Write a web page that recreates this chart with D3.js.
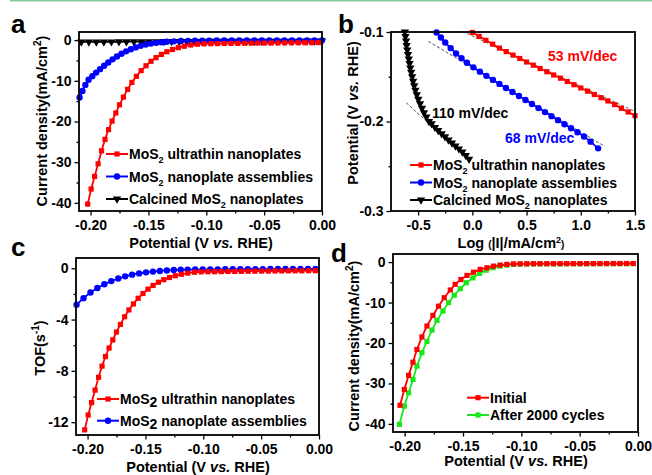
<!DOCTYPE html>
<html>
<head>
<meta charset="utf-8">
<script src="https://cdn.jsdelivr.net/npm/d3@7"></script>
<style>
  body { margin: 0; background: #fff; }
  text { font-family: "Liberation Sans", Arial, sans-serif; font-weight: bold; }
</style>
</head>
<body>
<svg width="652" height="475"></svg>
<script>
// ---- panel a : polarization curves (V vs RHE, mA/cm2)
const aUltrathin = [[-0.2025,-40.3],[-0.1995,-36.6],[-0.1965,-33.5],[-0.1935,-30.4],[-0.1905,-27.2],[-0.1875,-24.4],
  [-0.1845,-22.0],[-0.1814,-19.9],[-0.1782,-17.9],[-0.1750,-15.9],[-0.1716,-14.0],[-0.1680,-12.1],[-0.1643,-10.4],
  [-0.1604,-8.9],[-0.1563,-7.5],[-0.1521,-6.3],[-0.1478,-5.2],[-0.1434,-4.3],[-0.1388,-3.5],[-0.1341,-2.85],
  [-0.1292,-2.3],[-0.1242,-1.85],[-0.1190,-1.5],[-0.1134,-1.2],[-0.1076,-1.0],[-0.1018,-0.9],[-0.0960,-0.87],
  [-0.0902,-0.85],[-0.0844,-0.83],[-0.0786,-0.81],[-0.0728,-0.79],[-0.0670,-0.77],[-0.0612,-0.75],[-0.0554,-0.73],
  [-0.0496,-0.72],[-0.0438,-0.70],[-0.0380,-0.69],[-0.0322,-0.67],[-0.0264,-0.66],[-0.0206,-0.64],[-0.0148,-0.63],
  [-0.0090,-0.62],[-0.0032,-0.61]];
const aAssemblies = [[-0.2095,-14.1],[-0.2070,-12.5],[-0.2045,-11.0],[-0.2017,-9.75],[-0.1985,-8.85],[-0.1952,-7.98],
  [-0.1918,-7.13],[-0.1883,-6.29],[-0.1847,-5.50],[-0.1810,-4.72],[-0.1772,-4.01],[-0.1733,-3.34],[-0.1693,-2.76],
  [-0.1652,-2.23],[-0.1610,-1.79],[-0.1567,-1.41],[-0.1523,-1.10],[-0.1478,-0.85],[-0.1433,-0.66],[-0.1387,-0.52],
  [-0.1341,-0.40],[-0.1280,-0.30],[-0.1219,-0.22],[-0.1158,-0.17],[-0.1097,-0.14],[-0.1036,-0.12],[-0.0975,-0.11],
  [-0.0910,-0.10],[-0.0845,-0.10],[-0.0780,-0.09],[-0.0715,-0.09],[-0.0650,-0.08],[-0.0585,-0.08],[-0.0520,-0.07],
  [-0.0455,-0.07],[-0.0390,-0.07],[-0.0325,-0.06],[-0.0260,-0.06],[-0.0195,-0.06],[-0.0130,-0.05],[-0.0065,-0.05],[0,-0.05]];
const aCalcined = [[-0.2080,-0.45],[-0.2015,-0.44],[-0.1950,-0.43],[-0.1885,-0.42],[-0.1820,-0.41],[-0.1755,-0.40],
  [-0.1690,-0.39],[-0.1625,-0.38],[-0.1560,-0.37],[-0.1495,-0.36],[-0.1430,-0.35],[-0.1365,-0.34],[-0.1300,-0.33],
  [-0.1235,-0.32],[-0.1170,-0.31],[-0.1105,-0.30],[-0.1040,-0.29],[-0.0975,-0.28],[-0.0910,-0.28],[-0.0845,-0.27],
  [-0.0780,-0.26],[-0.0715,-0.26],[-0.0650,-0.25],[-0.0585,-0.25],[-0.0520,-0.24],[-0.0455,-0.24],[-0.0390,-0.23],
  [-0.0325,-0.23],[-0.0260,-0.22],[-0.0195,-0.22],[-0.0130,-0.21],[-0.0065,-0.21],[0,-0.20]];

// ---- panel b : Tafel plots (log|J|, V)
const bUltrathin = [[0,-0.1005],[0.0625,-0.1049],[0.125,-0.1093],[0.1875,-0.1136],[0.25,-0.1180],[0.3125,-0.1219],
  [0.375,-0.1258],[0.4375,-0.1296],[0.5,-0.1335],[0.5625,-0.1371],[0.625,-0.1408],[0.6875,-0.1444],[0.75,-0.1480],
  [0.8125,-0.1516],[0.875,-0.1553],[0.9375,-0.1589],[1.0,-0.1625],[1.0625,-0.1661],[1.125,-0.1698],[1.1875,-0.1734],
  [1.25,-0.1770],[1.3125,-0.1811],[1.375,-0.1853],[1.4375,-0.1894],[1.5,-0.1935]];
const bAssemblies = [[-0.33,-0.1005],[-0.29,-0.1062],[-0.25,-0.1118],[-0.20,-0.1180],[-0.15,-0.1240],[-0.10,-0.1293],
  [-0.05,-0.1343],[0.01,-0.1395],[0.07,-0.1443],[0.13,-0.1490],[0.19,-0.1535],[0.25,-0.1580],[0.31,-0.1625],
  [0.37,-0.1670],[0.43,-0.1715],[0.49,-0.1760],[0.55,-0.1805],[0.61,-0.1850],[0.67,-0.1895],[0.73,-0.1940],
  [0.79,-0.1985],[0.85,-0.2030],[0.91,-0.2075],[0.97,-0.2120],[1.03,-0.2168],[1.09,-0.2225],[1.16,-0.2300]];
const bCalcined = [[-0.622,-0.100],[-0.617,-0.105],[-0.611,-0.110],[-0.606,-0.115],[-0.600,-0.120],[-0.593,-0.125],
  [-0.586,-0.130],[-0.579,-0.135],[-0.572,-0.140],[-0.564,-0.145],[-0.555,-0.150],[-0.546,-0.155],[-0.536,-0.160],
  [-0.525,-0.165],[-0.512,-0.170],[-0.498,-0.175],[-0.482,-0.180],[-0.464,-0.185],[-0.446,-0.190],[-0.424,-0.195],
  [-0.400,-0.200],[-0.375,-0.2025],[-0.345,-0.2065],[-0.315,-0.2100],[-0.283,-0.2135],[-0.252,-0.2170],
  [-0.220,-0.2205],[-0.188,-0.2240],[-0.156,-0.2272],[-0.124,-0.2305],[-0.092,-0.2340],[-0.060,-0.2380],[-0.030,-0.2420]];
// Tafel fit segments, endpoints [log|J|, V]
const fitUltrathin = [[-0.09,-0.0993],[1.5,-0.1889]];
const fitAssemblies = [[-0.405,-0.1105],[1.224,-0.228]];
const fitCalcined = [[-0.61,-0.1790],[-0.36,-0.2065]];
const tafelSlopes = ["53 mV/dec", "68 mV/dec", "110 mV/dec"];

// ---- panel c : TOF (s-1)
const cUltrathin = [[-0.2025,-12.6],[-0.1995,-11.44],[-0.1965,-10.47],[-0.1935,-9.5],[-0.1905,-8.5],[-0.1875,-7.63],
  [-0.1845,-6.88],[-0.1814,-6.22],[-0.1782,-5.59],[-0.1750,-4.97],[-0.1716,-4.38],[-0.1680,-3.78],[-0.1643,-3.25],
  [-0.1604,-2.78],[-0.1563,-2.34],[-0.1521,-1.97],[-0.1478,-1.63],[-0.1434,-1.34],[-0.1388,-1.09],[-0.1341,-0.89],
  [-0.1292,-0.72],[-0.1242,-0.58],[-0.1190,-0.47],[-0.1134,-0.38],[-0.1076,-0.31],[-0.1018,-0.28],[-0.0960,-0.27],
  [-0.0902,-0.27],[-0.0844,-0.26],[-0.0786,-0.25],[-0.0728,-0.25],[-0.0670,-0.24],[-0.0612,-0.23],[-0.0554,-0.23],
  [-0.0496,-0.22],[-0.0438,-0.22],[-0.0380,-0.21],[-0.0322,-0.21],[-0.0264,-0.20],[-0.0206,-0.20],[-0.0148,-0.20],
  [-0.0090,-0.19],[-0.0032,-0.19]];
const cAssemblies = [[-0.2095,-2.84],[-0.2035,-2.33],[-0.1975,-1.89],[-0.1915,-1.54],[-0.1855,-1.25],[-0.1795,-1.00],
  [-0.1735,-0.80],[-0.1675,-0.63],[-0.1615,-0.50],[-0.1555,-0.40],[-0.1495,-0.32],[-0.1435,-0.26],[-0.1375,-0.21],
  [-0.1315,-0.17],[-0.1255,-0.14],[-0.1195,-0.12],[-0.1135,-0.11],[-0.1070,-0.10],[-0.1005,-0.10],[-0.0940,-0.09],
  [-0.0875,-0.09],[-0.0810,-0.08],[-0.0745,-0.08],[-0.0680,-0.08],[-0.0615,-0.07],[-0.0550,-0.07],[-0.0485,-0.07],
  [-0.0420,-0.06],[-0.0355,-0.06],[-0.0290,-0.06],[-0.0225,-0.06],[-0.0160,-0.05],[-0.0095,-0.05],[-0.0030,-0.05]];

// ---- panel d : stability
const dInitial = [[-0.2040,-35.4],[-0.2003,-31.5],[-0.1966,-28.0],[-0.1929,-24.75],[-0.1895,-21.6],[-0.1852,-18.5],
  [-0.1809,-15.8],[-0.1758,-13.2],[-0.1710,-10.9],[-0.1661,-8.8],[-0.1609,-6.9],[-0.1567,-5.5],[-0.1518,-4.3],
  [-0.1466,-3.3],[-0.1410,-2.5],[-0.1353,-1.8],[-0.1295,-1.4],[-0.1239,-1.0],[-0.1181,-0.74],[-0.1124,-0.57],
  [-0.1067,-0.46],[-0.1010,-0.43],[-0.0953,-0.41],[-0.0896,-0.40],[-0.0839,-0.40],[-0.0782,-0.39],[-0.0725,-0.39],
  [-0.0668,-0.38],[-0.0611,-0.38],[-0.0554,-0.38],[-0.0497,-0.37],[-0.0440,-0.37],[-0.0383,-0.37],[-0.0326,-0.36],
  [-0.0269,-0.36],[-0.0212,-0.36],[-0.0155,-0.35],[-0.0098,-0.35],[-0.0041,-0.35]];
const d2000 = [[-0.2045,-40.1],[-0.2003,-35.6],[-0.1966,-32.3],[-0.1929,-29.0],[-0.1895,-25.7],[-0.1852,-22.4],
  [-0.1809,-19.6],[-0.1766,-16.8],[-0.1723,-14.4],[-0.1672,-12.1],[-0.1624,-10.0],[-0.1575,-8.2],[-0.1524,-6.6],
  [-0.1472,-5.1],[-0.1415,-3.9],[-0.1359,-2.8],[-0.1301,-2.0],[-0.1244,-1.4],[-0.1187,-1.0],[-0.1124,-0.74],
  [-0.1067,-0.57],[-0.1010,-0.50],[-0.0953,-0.47],[-0.0896,-0.45],[-0.0839,-0.44],[-0.0782,-0.43],[-0.0725,-0.43],
  [-0.0668,-0.42],[-0.0611,-0.42],[-0.0554,-0.41],[-0.0497,-0.41],[-0.0440,-0.41],[-0.0383,-0.40],[-0.0326,-0.40],
  [-0.0269,-0.40],[-0.0212,-0.39],[-0.0155,-0.39],[-0.0098,-0.39],[-0.0041,-0.38]];

// tick values
const potTicks = [-0.20, -0.15, -0.10, -0.05, 0.00];
const potMinor = [-0.175, -0.125, -0.075, -0.025];
const jTicks = [0, -10, -20, -30, -40];
const jMinor = [-5, -15, -25, -35];
const logTicks = [-0.5, 0.0, 0.5, 1.0, 1.5];
const logMinor = [-0.25, 0.25, 0.75, 1.25];
const tafTicks = [-0.1, -0.2, -0.3];
const tafMinor = [-0.15, -0.25];
const tofTicks = [0, -4, -8, -12];
const tofMinor = [-2, -6, -10];

const RED = "#ff0000", BLUE = "#0000ff", BLACK = "#000000", GREEN = "#19e619";

const svg = d3.select("svg");

// thin green rule at the top of the figure
svg.append("line").attr("x1", 10).attr("x2", 652).attr("y1", 0.75).attr("y2", 0.75)
  .attr("stroke", "#88c896").attr("stroke-width", 1.5);

const symbols = {
  square: d3.symbol().type(d3.symbolSquare).size(27)(),
  circle: d3.symbol().type(d3.symbolCircle).size(32)(),
  tri: d3.symbol().type(d3.symbolTriangle).size(30)()
};

function marker(g, kind, color, x, y) {
  g.append("path").attr("d", symbols[kind]).attr("fill", color)
    .attr("transform", `translate(${x},${y})` + (kind == "tri" ? " rotate(180)" : ""));
}

// text made of parts: {t, size, dy, it}
function rich(sel, parts) {
  parts.forEach(p => {
    const ts = sel.append("tspan").text(p.t);
    if (p.size) ts.attr("font-size", p.size);
    if (p.dy) ts.attr("dy", p.dy);
    if (p.it) ts.attr("font-style", "italic");
  });
  return sel;
}

const potTitle = [{t: "Potential (V "}, {t: "vs.", it: true}, {t: " RHE)"}];
const jTitle = [{t: "Current density(mA/cm"}, {t: "2", size: 10, dy: -6}, {t: ")", dy: 6}];

function panel(p) {
  const g = svg.append("g");
  const x = d3.scaleLinear().domain(p.xd).range([p.x0, p.x1]);
  const y = d3.scaleLinear().domain(p.yd).range([p.y1, p.y0]);

  const axes = [
    g.append("g").attr("transform", `translate(0,${p.y1})`)
      .call(d3.axisBottom(x).tickValues(p.xMinor).tickSize(2.5).tickFormat("")),
    g.append("g").attr("transform", `translate(0,${p.y1})`)
      .call(d3.axisBottom(x).tickValues(p.xt).tickSize(4.5).tickPadding(5).tickFormat(p.xf)),
    g.append("g").attr("transform", `translate(${p.x0},0)`)
      .call(d3.axisLeft(y).tickValues(p.yMinor).tickSize(2.5).tickFormat("")),
    g.append("g").attr("transform", `translate(${p.x0},0)`)
      .call(d3.axisLeft(y).tickValues(p.yt).tickSize(4.5).tickPadding(3).tickFormat(p.yf))
  ];
  axes.forEach(a => {
    a.select(".domain").remove();
    a.selectAll("line").attr("stroke-width", 1.3);
    a.attr("font-size", 14).attr("font-family", null);
  });

  if (p.fits) {
    p.fits.forEach(f => {
      g.append("line").attr("x1", x(f[0][0])).attr("y1", y(f[0][1]))
        .attr("x2", x(f[1][0])).attr("y2", y(f[1][1]))
        .attr("stroke", "#555").attr("stroke-width", 1).attr("stroke-dasharray", "3,2");
    });
  }

  const line = d3.line().x(d => x(d[0])).y(d => y(d[1]));
  p.series.forEach(s => {
    g.append("path").datum(s.data).attr("d", line).attr("fill", "none")
      .attr("stroke", s.color).attr("stroke-width", 1.8);
    s.data.forEach(d => marker(g, s.sym, s.color, x(d[0]), y(d[1])));
  });

  g.append("rect").attr("x", p.x0).attr("y", p.y0)
    .attr("width", p.x1 - p.x0).attr("height", p.y1 - p.y0)
    .attr("fill", "none").attr("stroke", "#000").attr("stroke-width", 1.8);

  // legend
  p.legend.rows.forEach((r, i) => {
    const ly = p.legend.y + i * p.legend.dy;
    const lx = p.legend.x;
    g.append("line").attr("x1", lx).attr("x2", lx + 22).attr("y1", ly).attr("y2", ly)
      .attr("stroke", r.color).attr("stroke-width", 2);
    marker(g, r.sym, r.color, lx + 11, ly);
    rich(g.append("text").attr("x", lx + 23).attr("y", ly + 5).attr("font-size", 14), r.parts);
  });

  // axis titles
  rich(g.append("text").attr("x", p.xtPos[0]).attr("y", p.xtPos[1])
    .attr("text-anchor", "middle").attr("font-size", 14.5), p.xTitle);
  rich(g.append("text").attr("transform", `translate(${p.ytPos[0]},${p.ytPos[1]}) rotate(-90)`)
    .attr("text-anchor", "middle").attr("font-size", 14.5), p.yTitle);

  g.append("text").attr("x", p.label[0]).attr("y", p.label[1])
    .attr("font-size", 26).text(p.label[2]);

  return {g, x, y};
}

const f2 = d => d.toFixed(2), f1 = d => d.toFixed(1), f0 = d => String(d);
const sub2 = [{t: "2", size: 9, dy: 4}];

const legUltrathin = [{t: "MoS"}, ...sub2, {t: " ultrathin nanoplates", dy: -4}];
const legAssemblies = [{t: "MoS"}, ...sub2, {t: " nanoplate assemblies", dy: -4}];
const legCalcined = [{t: "Calcined MoS"}, ...sub2, {t: " nanoplates", dy: -4}];

panel({
  x0: 79, x1: 322, y0: 32, y1: 211, xd: [-0.21, 0], yd: [-42, 2],
  xt: potTicks, xMinor: potMinor, xf: f2, yt: jTicks, yMinor: jMinor, yf: f0,
  series: [
    {data: aCalcined, color: BLACK, sym: "tri"},
    {data: aAssemblies, color: BLUE, sym: "circle"},
    {data: aUltrathin, color: RED, sym: "square"}
  ],
  legend: {x: 106, y: 154, dy: 22.5, rows: [
    {color: RED, sym: "square", parts: legUltrathin},
    {color: BLUE, sym: "circle", parts: legAssemblies},
    {color: BLACK, sym: "tri", parts: legCalcined}
  ]},
  xTitle: potTitle, xtPos: [201, 248], yTitle: jTitle, ytPos: [47, 121],
  label: [11, 33, "a"]
});

const pb = panel({
  x0: 391, x1: 635, y0: 32, y1: 211, xd: [-0.75, 1.5], yd: [-0.3, -0.1],
  xt: logTicks, xMinor: logMinor, xf: f1, yt: tafTicks, yMinor: tafMinor, yf: f1,
  fits: [fitUltrathin, fitAssemblies, fitCalcined],
  series: [
    {data: bCalcined, color: BLACK, sym: "tri"},
    {data: bAssemblies, color: BLUE, sym: "circle"},
    {data: bUltrathin, color: RED, sym: "square"}
  ],
  legend: {x: 410, y: 165, dy: 17.5, rows: [
    {color: RED, sym: "square", parts: legUltrathin},
    {color: BLUE, sym: "circle", parts: legAssemblies},
    {color: BLACK, sym: "tri", parts: legCalcined}
  ]},
  xTitle: [{t: "Log "}, {t: "(", size: 10}, {t: "|I|/mA/cm"}, {t: "2", size: 9, dy: -5}, {t: ")", size: 10, dy: 5}],
  xtPos: [511, 248], yTitle: potTitle, ytPos: [358, 113],
  label: [338, 33, "b"]
});
// slope annotations
[[tafelSlopes[0], RED, 548, 61], [tafelSlopes[1], BLUE, 505, 143], [tafelSlopes[2], BLACK, 432, 118]]
  .forEach(s => pb.g.append("text").attr("x", s[2]).attr("y", s[3]).attr("font-size", 14)
    .attr("fill", s[1]).text(s[0]));

panel({
  x0: 76, x1: 319, y0: 258, y1: 435, xd: [-0.21, 0], yd: [-13, 0.8],
  xt: potTicks, xMinor: potMinor, xf: f2, yt: tofTicks, yMinor: tofMinor, yf: f0,
  series: [
    {data: cAssemblies, color: BLUE, sym: "circle"},
    {data: cUltrathin, color: RED, sym: "square"}
  ],
  legend: {x: 97, y: 399, dy: 21.7, rows: [
    {color: RED, sym: "square", parts: [{t: "MoS"}, {t: "2", dy: 3}, {t: " ultrathin nanoplates", dy: -3}]},
    {color: BLUE, sym: "circle", parts: [{t: "MoS"}, {t: "2", dy: 3}, {t: " nanoplate assemblies", dy: -3}]}
  ]},
  xTitle: potTitle, xtPos: [198, 472],
  yTitle: [{t: "TOF(s"}, {t: "-1", size: 10, dy: -6}, {t: ")", dy: 6}], ytPos: [45, 348],
  label: [11, 256, "c"]
});

panel({
  x0: 393, x1: 638, y0: 254, y1: 432, xd: [-0.21, 0], yd: [-42, 2],
  xt: potTicks, xMinor: potMinor, xf: f2, yt: jTicks, yMinor: jMinor, yf: f0,
  series: [
    {data: d2000, color: GREEN, sym: "square"},
    {data: dInitial, color: RED, sym: "square"}
  ],
  legend: {x: 467, y: 397.7, dy: 17.3, rows: [
    {color: RED, sym: "square", parts: [{t: "Initial"}]},
    {color: GREEN, sym: "square", parts: [{t: "After 2000 cycles"}]}
  ]},
  xTitle: potTitle, xtPos: [516, 466], yTitle: jTitle, ytPos: [359, 346],
  label: [331, 262, "d"]
});
</script>
</body>
</html>
